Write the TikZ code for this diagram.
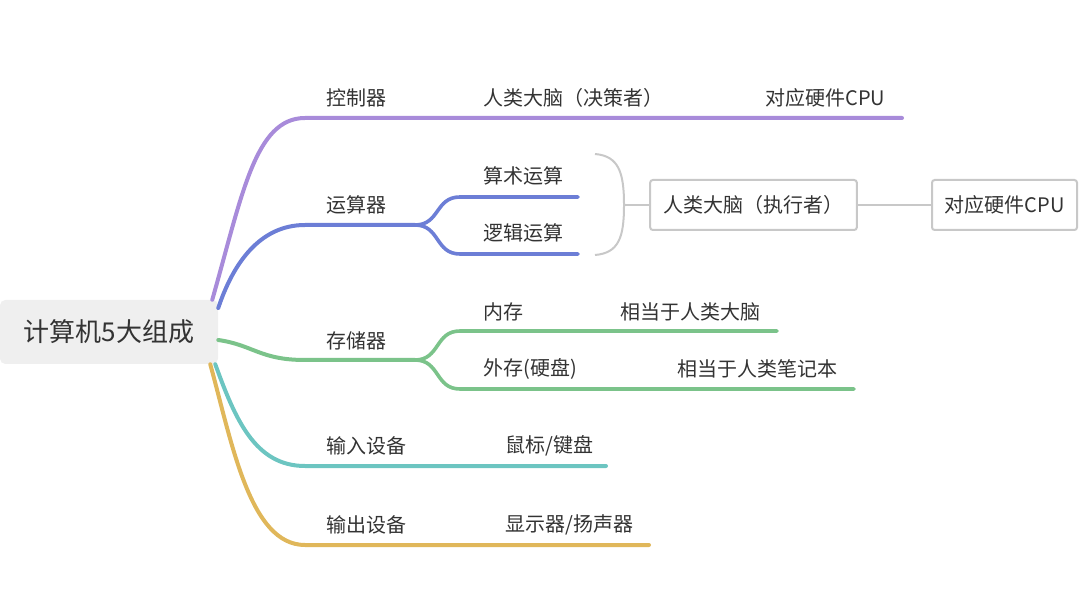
\documentclass[tikz,border=0pt]{standalone}
\usepackage{fontspec}
\setmainfont{Noto Sans CJK SC}
\usetikzlibrary{positioning}
\definecolor{textgrau}{HTML}{333333}
\definecolor{wurzelgrau}{HTML}{EFEFEF}
\definecolor{grau}{HTML}{C8C8C8}
\definecolor{lila}{HTML}{A88BDA}
\definecolor{blau}{HTML}{6C7ED6}
\definecolor{gruen}{HTML}{7BC38A}
\definecolor{tuerkis}{HTML}{6CC5C1}
\definecolor{gold}{HTML}{E0B75A}
\tikzset{
	txt/.style={anchor=west, inner sep=0pt, text=textgrau, font=\fontsize{15}{18}\selectfont},
	ast/.style={line width=3pt, line cap=round},
	zweig/.style={line width=2.7pt, line cap=round},
	klammer/.style={draw=grau, line width=1.5pt},
	kasten/.style={draw=grau, line width=1.5pt, rounded corners=2pt, fill=white, text=textgrau,
		font=\fontsize{15}{18}\selectfont, minimum height=37.5pt, inner xsep=0pt},
	wurzel/.style={fill=wurzelgrau, rounded corners=4pt, minimum width=163.5pt, minimum height=48pt,
		text=textgrau, font=\fontsize{19.5}{23}\selectfont}
}
\begin{document}
\begin{tikzpicture}[x=0.75pt, y=-0.75pt]
	\useasboundingbox (0,0) rectangle (1080,605);
	% Wurzel
	\node[wurzel] (root) at (109,332) {计算机5大组成};

	% Steuerwerk
	\coordinate (ctrl-a) at (305,118);
	\coordinate (ctrl-e) at (902,118);
	\draw[ast, lila] ([xshift=-4.5pt]root.north east) .. controls +(30,-105) and +(-50,0) .. (ctrl-a) -- (ctrl-e);
	\node[txt] (ctrl) at (326,98) {控制器};
	\node[txt] (ctrl-1) at (483,98) {人类大脑（决策者）};
	\node[txt] (ctrl-2) at (765,98) {对应硬件CPU};

	% Rechenwerk
	\coordinate (alu-a) at (305,225);
	\coordinate (alu-f) at (415,225);
	\coordinate (add-a) at (460,197);
	\coordinate (add-e) at (578,197);
	\coordinate (log-a) at (460,254);
	\coordinate (log-e) at (578,254);
	\draw[ast, blau] ([yshift=18pt]root.east) .. controls +(15,-45) and +(-45,0) .. (alu-a) -- (alu-f);
	\draw[zweig, blau] (alu-f) .. controls +(25,0) and +(-25,0) .. (add-a) -- (add-e);
	\draw[zweig, blau] (alu-f) .. controls +(25,0) and +(-25,0) .. (log-a) -- (log-e);
	\node[txt] (alu) at (326,205) {运算器};
	\node[txt] (add) at (483,176) {算术运算};
	\node[txt] (log) at (483,233) {逻辑运算};

	% Klammer
	\coordinate (br-top) at (595,154);
	\coordinate (br-mid) at (624,205);
	\coordinate (br-bot) at (595,255);
	\draw[klammer] (br-top) .. controls +(24,2) and +(0,-32) .. (br-mid) .. controls +(0,32) and +(24,-2) .. (br-bot);
	\node[kasten, minimum width=155pt] (exec) at (753.5,205) {人类大脑（执行者）};
	\node[kasten, minimum width=108.75pt] (cpu) at (1004.5,205) {对应硬件CPU};
	\draw[klammer] (br-mid) -- (exec.west);
	\draw[klammer] (exec.east) -- (cpu.west);

	% Speicher
	\coordinate (mem-a) at (305,360);
	\coordinate (mem-f) at (415,360);
	\coordinate (ram-a) at (460,331);
	\coordinate (ram-e) at (777,331);
	\coordinate (hdd-a) at (460,389);
	\coordinate (hdd-e) at (854,389);
	\draw[ast, gruen] ([yshift=-6pt]root.east) .. controls +(35,5) and +(-45,0) .. (mem-a) -- (mem-f);
	\draw[zweig, gruen] (mem-f) .. controls +(25,0) and +(-25,0) .. (ram-a) -- (ram-e);
	\draw[zweig, gruen] (mem-f) .. controls +(25,0) and +(-25,0) .. (hdd-a) -- (hdd-e);
	\node[txt] (mem) at (326,341) {存储器};
	\node[txt] (ram) at (483,312) {内存};
	\node[txt] (ram-1) at (620,312) {相当于人类大脑};
	\node[txt] (hdd) at (483,369) {外存(硬盘)};
	\node[txt] (hdd-1) at (677,369) {相当于人类笔记本};

	% Eingabe
	\coordinate (in-a) at (305,466);
	\coordinate (in-e) at (606,466);
	\draw[ast, tuerkis] ([xshift=-2.25pt]root.south east) .. controls +(20,55) and +(-50,0) .. (in-a) -- (in-e);
	\node[txt] (in) at (326,446) {输入设备};
	\node[txt] (in-1) at (505,446) {鼠标/键盘};

	% Ausgabe
	\coordinate (out-a) at (305,545);
	\coordinate (out-e) at (649,545);
	\draw[ast, gold] ([xshift=-6pt]root.south east) .. controls +(22,80) and +(-55,0) .. (out-a) -- (out-e);
	\node[txt] (out) at (326,525) {输出设备};
	\node[txt] (out-1) at (505,525) {显示器/扬声器};
\end{tikzpicture}
\end{document}
